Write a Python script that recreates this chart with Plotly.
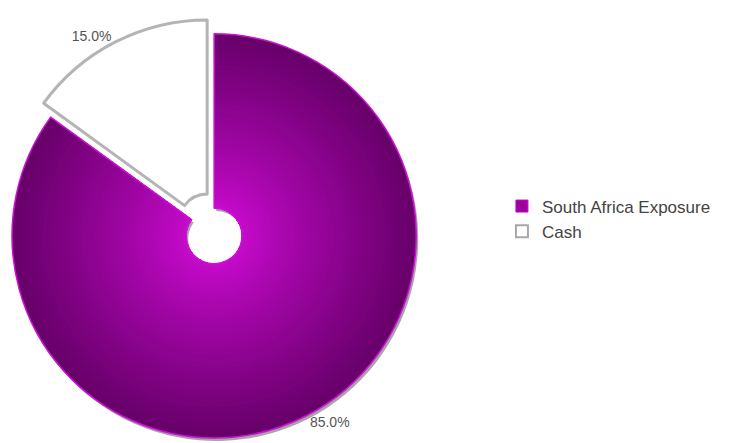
import numpy as np
import plotly.graph_objects as go

# ---- data ----
labels = ["South Africa Exposure", "Cash"]
values = [85.0, 15.0]

# ---- geometry / style ----
W, H = 730, 443
CX, CY = 212, 237          # pie centre (px, from top-left)
R, R_HOLE = 203, 28
PULL_DX, PULL_DY = -7, -14  # offset of the exploded cash slice
N_RINGS = 40
TRANSPARENT = "rgba(0,0,0,0)"
FONT = "Liberation Sans, Arial, sans-serif"


def dom(cx, cy, r):
    return dict(x=[(cx - r) / W, (cx + r) / W],
                y=[(H - cy - r) / H, (H - cy + r) / H])


def common(**kw):
    d = dict(labels=labels, values=values, sort=False, direction="clockwise",
             rotation=0, hoverinfo="skip", showlegend=False, textinfo="none")
    d.update(kw)
    return d


fig = go.Figure()

# dummy trace only supplying legend entries (tiny, hidden behind the pie)
fig.add_trace(go.Pie(**common(
    domain=dom(300, 330, 1), showlegend=True,
    marker=dict(colors=["#9c009c", "#ffffff"],
                line=dict(color=["#d000d0", "#a8a8a8"], width=[1, 2])))))

# soft shadow under the purple slice
fig.add_trace(go.Pie(**common(
    domain=dom(CX + 2, CY + 3, R), hole=R_HOLE / R,
    marker=dict(colors=["rgba(0,0,0,0.35)", TRANSPARENT]))))

# radial gradient built from stacked pies
inner = np.array([200, 10, 206])
outer = np.array([104, 0, 106])
radii = np.linspace(R, R_HOLE + 4, N_RINGS)
for r in radii:
    t = (r - R_HOLE) / (R - R_HOLE)
    t = t ** 0.85
    c = inner + (outer - inner) * t
    col = "rgb(%d,%d,%d)" % tuple(c.round().astype(int))
    fig.add_trace(go.Pie(**common(
        domain=dom(CX, CY, r), hole=R_HOLE / r,
        marker=dict(colors=[col, TRANSPARENT]))))

# outline of the purple slice + its label
fig.add_trace(go.Pie(**common(
    domain=dom(CX, CY, R), hole=R_HOLE / R,
    marker=dict(colors=[TRANSPARENT, TRANSPARENT],
                line=dict(color=["#d010d8", TRANSPARENT], width=[1.5, 0])),
    textinfo=None, texttemplate=["%{percent:.1%}", ""],
    textposition="outside",
    outsidetextfont=dict(family=FONT, size=14, color="#555555"))))

# exploded cash slice + its label
fig.add_trace(go.Pie(**common(
    domain=dom(CX + PULL_DX, CY + PULL_DY, R), hole=R_HOLE / R,
    marker=dict(colors=[TRANSPARENT, "#ffffff"],
                line=dict(color=[TRANSPARENT, "#b4b4b4"], width=[0, 3])),
    textinfo=None, texttemplate=["", "%{percent:.1%}"],
    textposition="outside",
    outsidetextfont=dict(family=FONT, size=14, color="#555555"))))

fig.update_layout(
    width=W, height=H, autosize=False,
    margin=dict(l=0, r=0, t=0, b=0),
    paper_bgcolor="white", plot_bgcolor="white",
    font=dict(family=FONT),
    legend=dict(x=501 / W, xanchor="left", y=(H - 220) / H, yanchor="middle",
                font=dict(family=FONT, size=17, color="#444444"),
                bgcolor="rgba(0,0,0,0)", borderwidth=0),
)

fig.write_html("out.html",
               config={"displayModeBar": False},
               post_script="document.body.style.margin='0px';"
                           "document.body.style.padding='0px';")
